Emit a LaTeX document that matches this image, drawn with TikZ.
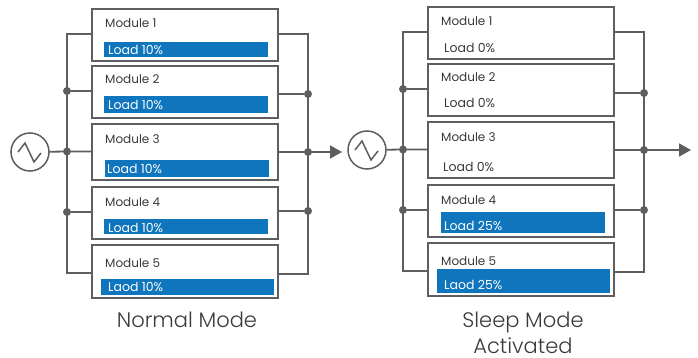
\documentclass[tikz,border=0pt]{standalone}
\usepackage{fontspec}
\setmainfont{Poppins}
\newfontfamily\capfont{Poppins Light}
\usepackage{xcolor}
\usetikzlibrary{arrows.meta}
\definecolor{wire}{HTML}{5E5E60}
\definecolor{barblue}{HTML}{0F75BC}
\definecolor{ink}{HTML}{3A3A3C}
\tikzset{
  modbox/.style={draw=wire,line width=1.8pt,fill=white,minimum width=186pt,inner sep=0pt},
  loadbar/.style={fill=barblue,inner sep=0pt,anchor=west},
  modtext/.style={text=ink,font=\fontsize{12}{14}\selectfont,inner sep=0pt,anchor=west,yshift=-0.5pt},
  loadw/.style={text=white,font=\fontsize{12.5}{14}\selectfont,inner sep=0pt,anchor=west},
  loadk/.style={text=ink,font=\fontsize{12.5}{14}\selectfont,inner sep=0pt,anchor=west},
  junction/.style={circle,fill=wire,minimum size=8pt,inner sep=0pt},
  source/.style={circle,draw=wire,line width=1.5pt,fill=white,minimum size=38pt,inner sep=0pt},
  caption/.style={text=ink,font=\capfont\fontsize{21}{26}\selectfont,inner sep=0pt},
  bus/.style={draw=wire,line width=1.8pt}
}
\begin{document}
\begin{tikzpicture}[line cap=butt,line join=miter,>={Triangle[length=12pt,width=13pt]},x=1pt,y=-1pt]
\useasboundingbox (0,0) rectangle (698,358);
% normal mode
\node[modbox,minimum height=52pt] (lmod1) at (185,35) {};
\node[modbox,minimum height=52pt] (lmod2) at (185,92) {};
\node[modbox,minimum height=56pt] (lmod3) at (185,152) {};
\node[modbox,minimum height=52pt] (lmod4) at (185,213) {};
\node[modbox,minimum height=53pt] (lmod5) at (185,271.5) {};
\node[loadbar,minimum width=164pt,minimum height=15pt] (lbar1) at (104,49.5) {};
\node[loadbar,minimum width=164pt,minimum height=17pt] (lbar2) at (104,104.5) {};
\node[loadbar,minimum width=164pt,minimum height=17pt] (lbar3) at (105,168.5) {};
\node[loadbar,minimum width=164pt,minimum height=15pt] (lbar4) at (104,226.5) {};
\node[loadbar,minimum width=173pt,minimum height=16pt] (lbar5) at (101,287) {};
\node[modtext] (ltxt1) at (105,22.5) {Module 1};
\node[modtext] (ltxt2) at (105,78.5) {Module 2};
\node[modtext] (ltxt3) at (105,138.5) {Module 3};
\node[modtext] (ltxt4) at (105,201.5) {Module 4};
\node[modtext] (ltxt5) at (105,262.5) {Module 5};
\node[loadw] (lload1) at (108,49.5) {Load 10\%};
\node[loadw] (lload2) at (108,104.5) {Load 10\%};
\node[loadw] (lload3) at (107,168.5) {Load 10\%};
\node[loadw] (lload4) at (108,227.5) {Load 10\%};
\node[loadw] (lload5) at (108,286.5) {Laod 10\%};
\node[source] (lsrc) at (30,152) {};
\draw[wire,line width=1.5pt] ([shift={(-12,0)}]lsrc.center) -- ([shift={(-5,-9)}]lsrc.center) -- ([shift={(4,10)}]lsrc.center) -- ([shift={(11,1)}]lsrc.center);
\coordinate (ltop) at (67,34);
\coordinate (lbot) at (67,273);
\node[junction] (ldot2) at (67,91) {};
\node[junction] (ldot3) at (67,151.5) {};
\node[junction] (ldot4) at (67,212) {};
\coordinate (rtop) at (308,34);
\coordinate (rbot) at (308,274);
\node[junction] (rdot2) at (308,94) {};
\node[junction] (rdot3) at (308,152) {};
\node[junction] (rdot4) at (308,211) {};
\coordinate (lend) at (342,152);
\draw[bus] (lmod1.west |- ltop) -- (ltop) -- (lbot) -- (lmod5.west |- lbot);
\draw[bus] (ldot2) -- (lmod2.west |- ldot2);
\draw[bus] (lsrc) -- (ldot3) -- (lmod3.west |- ldot3);
\draw[bus] (ldot4) -- (lmod4.west |- ldot4);
\draw[bus] (lmod1.east |- rtop) -- (rtop) -- (rbot) -- (lmod5.east |- rbot);
\draw[bus] (lmod2.east |- rdot2) -- (rdot2);
\draw[bus] (lmod4.east |- rdot4) -- (rdot4);
\draw[bus,->] (lmod3.east |- rdot3) -- (lend);
\node[caption] (lcap) at (187,320) {Normal Mode};
% sleep mode
\node[modbox,minimum height=52pt] (smod1) at (521,33) {};
\node[modbox,minimum height=52pt] (smod2) at (521,90) {};
\node[modbox,minimum height=56pt] (smod3) at (521,150) {};
\node[modbox,minimum height=52pt] (smod4) at (521,211) {};
\node[modbox,minimum height=53pt] (smod5) at (521,269.5) {};
\node[loadbar,minimum width=164pt,minimum height=21pt] (sbar4) at (441,222.5) {};
\node[loadbar,minimum width=173pt,minimum height=24pt] (sbar5) at (437,281) {};
\node[modtext] (stxt1) at (441,20.5) {Module 1};
\node[modtext] (stxt2) at (441,76.5) {Module 2};
\node[modtext] (stxt3) at (441,136.5) {Module 3};
\node[modtext] (stxt4) at (441,199.5) {Module 4};
\node[modtext] (stxt5) at (441,260.5) {Module 5};
\node[loadk] (sload1) at (444,47.5) {Load 0\%};
\node[loadk] (sload2) at (444,102.5) {Load 0\%};
\node[loadk] (sload3) at (443,166.5) {Load 0\%};
\node[loadw] (sload4) at (444,225.5) {Load 25\%};
\node[loadw] (sload5) at (444,284.5) {Laod 25\%};
\node[source] (ssrc) at (367,150) {};
\draw[wire,line width=1.5pt] ([shift={(-12,0)}]ssrc.center) -- ([shift={(-5,-9)}]ssrc.center) -- ([shift={(4,10)}]ssrc.center) -- ([shift={(11,1)}]ssrc.center);
\coordinate (stop) at (403,32);
\coordinate (sbot) at (403,271);
\node[junction] (sdot2) at (403,89) {};
\node[junction] (sdot3) at (403,149.5) {};
\node[junction] (sdot4) at (403,210) {};
\coordinate (ttop) at (644,32);
\coordinate (tbot) at (644,272);
\node[junction] (tdot2) at (644,93) {};
\node[junction] (tdot3) at (644,150) {};
\node[junction] (tdot4) at (644,210) {};
\coordinate (send) at (691,150);
\draw[bus] (smod1.west |- stop) -- (stop) -- (sbot) -- (smod5.west |- sbot);
\draw[bus] (sdot2) -- (smod2.west |- sdot2);
\draw[bus] (ssrc) -- (sdot3) -- (smod3.west |- sdot3);
\draw[bus] (sdot4) -- (smod4.west |- sdot4);
\draw[bus] (smod1.east |- ttop) -- (ttop) -- (tbot) -- (smod5.east |- tbot);
\draw[bus] (smod2.east |- tdot2) -- (tdot2);
\draw[bus] (smod4.east |- tdot4) -- (tdot4);
\draw[bus,->] (smod3.east |- tdot3) -- (send);
\node[caption,align=center] (scap) at (523,332.5) {Sleep Mode\\Activated};
\end{tikzpicture}
\end{document}
